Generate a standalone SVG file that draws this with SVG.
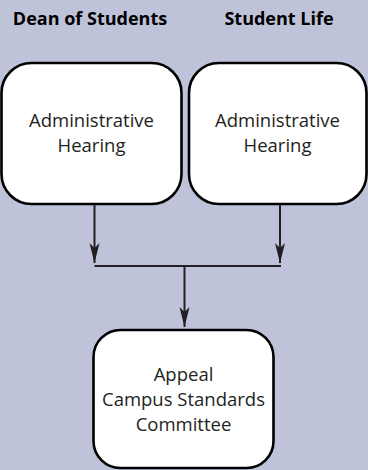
<svg xmlns="http://www.w3.org/2000/svg" width="368" height="470" viewBox="0 0 368 470">
<defs>
<style>
.bg{fill:#BEC3DA}
.box{fill:#fff;stroke:#000;stroke-width:2.6}
.t{font-family:"Open Sans","Noto Sans",sans-serif;font-size:18.5px;fill:#231f20;text-anchor:middle}
.h{font-family:"Open Sans","Noto Sans",sans-serif;font-size:18px;font-weight:bold;fill:#000;text-anchor:middle}
.c{stroke:#231f20;stroke-width:2;fill:none}
</style>
<marker id="arr" markerWidth="22" markerHeight="12" refX="20" refY="5" orient="auto" markerUnits="userSpaceOnUse">
<path d="M0,0 L20,5 L0,10 L5,5 Z" fill="#231f20"/>
</marker>
</defs>
<rect class="bg" x="0" y="0" width="368" height="470"/>
<text class="h" x="90" y="25">Dean of Students</text>
<text class="h" x="279" y="25">Student Life</text>
<g id="node-left">
<rect class="box" x="1.5" y="63" width="180" height="141" rx="30" ry="30"/>
<text class="t" x="91.5" y="127">Administrative</text>
<text class="t" x="91.5" y="152">Hearing</text>
</g>
<g id="node-right">
<rect class="box" x="189" y="63" width="177.5" height="141" rx="30" ry="30"/>
<text class="t" x="277.5" y="127">Administrative</text>
<text class="t" x="277.5" y="152">Hearing</text>
</g>
<g id="node-appeal">
<rect class="box" x="93.5" y="330" width="180" height="138" rx="27" ry="27"/>
<text class="t" x="183.5" y="381">Appeal</text>
<text class="t" x="183.5" y="406">Campus Standards</text>
<text class="t" x="183.5" y="431">Committee</text>
</g>
<g id="connectors">
<line class="c" x1="94.5" y1="205" x2="94.5" y2="263" marker-end="url(#arr)"/>
<line class="c" x1="280" y1="205" x2="280" y2="263" marker-end="url(#arr)"/>
<line class="c" x1="94.5" y1="266" x2="281" y2="266"/>
<line class="c" x1="184.5" y1="266" x2="184.5" y2="327" marker-end="url(#arr)"/>
</g>
</svg>
